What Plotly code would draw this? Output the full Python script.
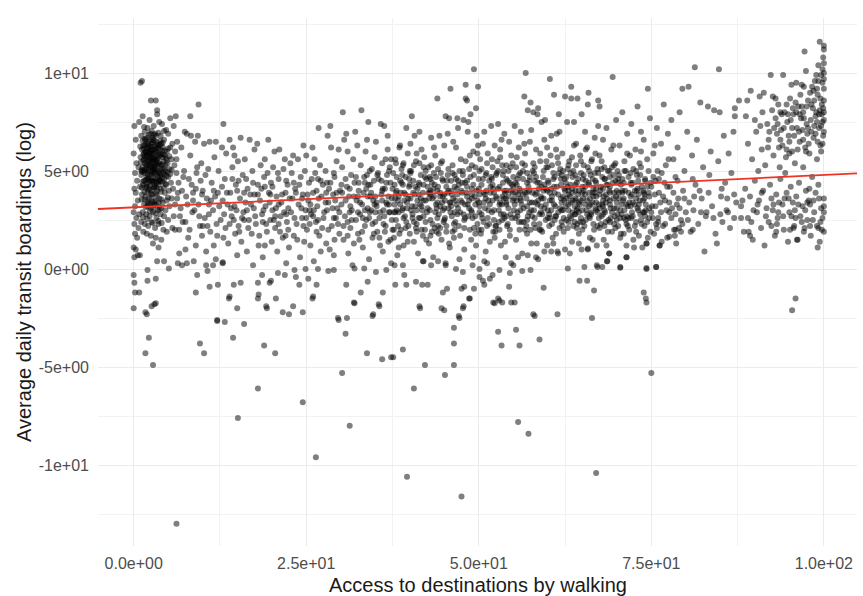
import plotly.graph_objects as go

# ---------------- data (x = access to destinations by walking, y = log avg daily boardings) ----------------
column_zero = [(0.1,7.3),(0.3,6.6),(0.0,5.9),(0.4,5.4),(0.2,4.9),(0.5,4.5),(0.1,4.1),(0.3,3.9),(0.6,3.5),(0.2,3.2),
    (0.0,2.9),(0.4,2.6),(0.1,2.3),(0.7,2.1),(0.2,1.8),(0.5,1.6),(0.0,1.1),(0.3,1.0),(0.1,0.6),(0.6,0.7),(0.9,0.7),
    (0.0,-0.3),(0.1,-0.7),(0.2,-1.2),(0.0,-2.0),(0.8,2.8),(0.9,4.2),(0.7,5.2)]

core_cluster = [(1.0,9.5),(1.2,9.6),(2.5,8.6),(3.2,8.6),(3.4,8.1),(3.4,7.9),(9.4,8.4),(8.2,7.8),(13.0,7.4),
    (1.3,7.8),(2.3,7.6),(3.7,7.5),(4.7,7.1),(5.3,7.7),(6.1,7.8),(0.8,7.5),(2.0,7.2),(2.9,7.3),(4.1,7.4),(5.8,7.3),(1.6,7.0),(3.1,6.9),
    (1.1,6.8),(1.9,6.7),(2.4,6.9),(2.8,6.6),(3.3,6.5),(3.9,6.8),(4.4,6.6),(5.0,6.9),(5.6,6.4),(1.4,6.3),(2.1,6.2),(2.6,6.4),(3.0,6.1),
    (3.6,6.3),(4.2,6.2),(4.8,6.0),(5.3,6.2),(6.3,6.5),(1.7,6.0),(2.3,5.9),(3.2,6.0),(3.8,5.9),(4.5,5.8),(6.0,6.0),(1.2,6.1),(2.7,6.7),(4.0,6.4),
    (1.0,5.7),(1.5,5.6),(2.0,5.5),(2.5,5.7),(2.9,5.4),(3.4,5.6),(3.9,5.3),(4.3,5.5),(4.9,5.4),(5.5,5.6),(1.3,5.2),(1.8,5.1),(2.2,5.3),
    (2.7,5.0),(3.1,5.2),(3.6,5.0),(4.1,5.1),(4.6,5.0),(5.2,5.1),(5.9,5.3),(1.6,4.9),(2.4,4.8),(3.0,4.9),(3.5,4.7),(4.0,4.8),(4.4,4.6),
    (5.0,4.7),(1.1,4.8),(2.0,4.6),(2.8,4.5),(3.3,4.4),(3.8,4.5),(4.7,4.3),(5.4,4.4),(6.2,4.9),(2.6,5.2),(3.7,5.4),(1.9,5.8),(3.0,5.7),(4.2,5.7),
    (1.4,4.3),(1.9,4.2),(2.3,4.1),(2.9,4.2),(3.4,4.0),(3.9,4.1),(4.5,3.9),(5.1,4.0),(5.7,4.1),(1.2,3.8),(1.7,3.7),(2.2,3.6),(2.7,3.8),
    (3.2,3.5),(3.7,3.6),(4.2,3.4),(4.8,3.5),(5.5,3.6),(6.4,3.9),(1.5,3.3),(2.0,3.2),(2.5,3.1),(3.0,3.3),(3.5,3.0),(4.0,3.1),(4.6,3.0),
    (5.2,3.2),(6.0,3.3),(1.3,2.9),(1.8,2.8),(2.3,2.7),(2.8,2.9),(3.3,2.6),(3.9,2.8),(4.4,2.7),(5.0,2.5),(5.8,2.7),
    (1.1,2.4),(1.6,2.3),(2.1,2.2),(2.6,2.4),(3.1,2.1),(3.6,2.3),(4.3,2.0),(1.4,1.9),(1.9,1.8),(2.5,1.7),(3.2,1.6),(4.0,1.5),(4.8,1.9),
    (5.6,2.1),(2.8,1.3),(3.6,1.1),(6.6,2.0),
    (1.6,5.4),(2.1,5.0),(2.5,6.1),(2.9,5.9),(3.3,5.5),(3.5,6.2),(2.2,4.4),(2.6,4.0),(3.1,4.6),(1.8,6.4),(2.4,6.6),(3.2,6.8),(1.5,4.5),
    (4.3,4.9),(2.0,3.9),(3.6,4.3),(2.7,3.4),(1.7,5.0),(3.0,5.1),(2.3,5.6),(4.6,5.3),(3.8,6.1),(2.8,4.7),(2.1,6.5),
    (1.8,5.3),(2.4,5.4),(2.9,5.2),(3.4,5.3),(2.0,6.0),(2.7,6.1),(1.5,5.9),(3.1,5.6),(2.2,5.8),(3.7,4.9),(1.9,4.7),(2.5,4.5),(2.6,5.5),(1.7,6.6)]

core_cluster_dense = [(1.05,5.45),(1.25,4.95),(1.45,6.15),(1.65,5.75),(1.85,4.35),(2.05,6.35),(2.15,5.15),(2.35,4.25),(2.45,5.95),
    (2.65,4.85),(2.75,6.45),(2.95,4.15),(3.05,6.25),(3.25,5.05),(3.35,3.75),(3.55,5.85),(3.65,4.55),(3.85,6.55),(3.95,3.95),(4.15,5.35),
    (4.35,4.15),(4.55,6.05),(4.75,4.75),(4.95,3.65),(5.15,5.75),(1.15,3.55),(1.35,2.65),(1.55,3.95),(1.75,3.15),(1.95,2.55),(2.15,3.35),
    (2.35,2.95),(2.55,3.65),(2.75,2.35),(2.95,3.45),(3.15,2.85),(3.35,3.25),(3.55,2.45),(3.75,3.05),(4.05,2.35),(1.2,5.05),(1.4,5.55),
    (1.6,6.65),(1.8,5.95),(2.0,4.85),(2.2,6.85),(2.4,5.25),(2.6,5.85),(2.8,5.45),(3.0,4.45),(3.2,5.95),(3.4,4.85),(3.6,5.35),(3.8,4.75),
    (4.0,5.85),(4.2,4.45),(4.4,5.15),(4.6,4.35),(4.8,5.55),(5.0,6.15),(5.3,4.85),(5.5,5.05),(1.9,5.35),(2.3,4.55),(2.7,5.65),(3.1,4.95),
    (3.5,5.65),(3.9,5.05),(2.1,4.05),(2.9,6.85),(1.3,4.45),(1.7,4.15),(2.5,3.85),(3.3,4.15),(4.1,4.65),(1.5,7.25),(2.6,7.05),(3.6,6.95),
    (4.4,7.05),(0.95,6.25),
    (1.1,5.0),(1.3,6.55),(1.5,5.05),(1.7,4.55),(1.9,6.15),(2.1,4.65),(2.3,6.25),(2.5,4.95),(2.7,4.45),(2.9,5.65),(3.1,4.25),(3.3,6.15),
    (3.5,4.45),(3.7,5.75),(3.9,4.45),(4.1,6.05),(4.3,5.85),(4.5,4.85),(4.7,5.65),(4.9,4.95),(1.2,4.15),(1.6,3.55),(2.0,3.45),(2.4,3.35),
    (2.8,3.15),(3.2,3.85),(3.6,3.35),(4.0,3.55),(1.4,5.85),(1.8,5.65),(2.2,5.55),(2.6,6.25),(3.0,6.55),(3.4,6.35),(3.8,6.35),(4.2,6.45),
    (2.4,6.0),(2.8,5.1),(3.2,5.4),(1.6,6.3)]

low_access = [(6.2,5.6),(6.5,4.4),(6.8,3.1),(6.9,6.2),(7.1,2.4),(7.3,5.0),(7.4,7.0),(7.6,3.7),(7.7,6.9),(7.9,1.6),(8.0,4.6),(8.2,5.8),
    (8.3,6.8),(8.5,2.9),(8.6,3.9),(8.9,6.5),(9.0,1.2),(9.1,4.9),(9.3,6.8),(9.4,3.3),(9.6,2.2),(9.8,5.4),(10.0,4.0),(10.2,6.4),(10.3,2.6),
    (10.5,0.9),(10.6,3.6),(10.8,5.1),(11.0,6.5),(11.1,1.9),(11.3,4.4),(11.5,3.0),(11.7,5.7),(11.9,6.5),(12.0,2.3),(12.2,3.9),(6.0,2.0),
    (7.5,1.0),(8.7,0.4),(11.6,1.2),(6.6,0.8),(9.9,1.7),(10.9,3.3),(12.3,5.0),(7.0,4.0),
    (12.8,6.2),(12.9,0.3),(13.2,4.6),(13.3,2.1),(13.4,5.9),(13.6,3.3),(13.7,1.3),(13.9,6.6),(14.0,3.9),(14.2,2.7),(14.3,5.2),(14.4,6.2),
    (14.6,5.8),(14.7,1.8),(14.8,4.3),(14.9,3.0),(15.0,0.7),(15.1,5.5),(15.2,2.2),(15.4,3.6),(15.5,6.7),(15.6,1.4),(15.8,4.8),(15.9,2.9),
    (16.1,5.6),(16.2,3.4),(16.4,0.9),(16.5,4.1),(16.7,2.5),(16.8,6.6),(16.9,3.8),(17.1,1.8),(17.2,5.0),(17.4,3.1),(17.5,6.1),(17.3,0.2),
    (17.7,2.3),(17.9,6.4),(18.0,4.3),(18.1,1.2),(18.3,3.5),(18.4,5.3),(18.6,2.8),(18.7,0.6),(18.9,4.7),(19.0,5.6),(19.1,3.2),(19.3,1.9),
    (19.5,6.6),(19.6,3.9),(19.8,2.5),(19.9,4.4),(20.0,1.4),(20.1,3.0),(20.2,5.2),(20.4,6.0),(20.5,2.1),(20.7,3.7),(20.8,0.9),(21.0,4.6),
    (21.1,6.1),(21.3,2.7),(21.4,3.4),(21.6,1.6),(21.7,5.1),(21.9,5.6),(22.0,3.9),(22.2,2.4),(22.3,4.3),(22.5,1.1),(22.4,3.1),
    (22.7,5.4),(22.8,2.9),(23.0,3.6),(23.1,5.8),(23.2,1.7),(23.4,4.1),(23.6,2.3),(23.8,5.6),(23.9,3.3),(24.1,0.6),(24.2,4.7),(24.4,2.6),
    (24.5,3.8),(24.7,1.4),(24.8,5.0),(24.9,3.0),(22.1,0.3),(23.5,-0.4),(24.6,6.3)]

low_access_band = [(6.3,3.6),(6.7,2.7),(7.2,4.7),(7.8,3.3),(8.1,2.0),(8.4,4.3),(8.8,3.0),(9.2,5.2),(9.5,2.7),(9.9,3.8),(10.4,4.8),
    (10.7,2.2),(11.2,3.5),(11.6,4.0),(12.1,1.7),(12.4,3.2),(12.8,4.2),(13.1,2.8),(13.5,3.9),(13.9,2.3),(14.3,4.6),(14.6,3.2),(15.0,4.0),
    (15.3,1.9),(15.7,2.6),(16.0,3.9),(16.3,4.6),(16.6,2.1),(17.0,3.3),(17.3,4.4),(17.6,2.7),(18.0,3.8),(18.2,1.7),(18.5,4.1),(18.8,3.0),
    (19.2,2.3),(19.4,4.9),(19.7,3.4),(20.1,4.2),(20.3,2.5),(20.6,3.1),(20.9,4.9),(21.2,1.9),(21.5,3.8),(21.8,2.9),(22.1,4.5),(22.4,2.0),
    (22.6,3.6),(22.9,4.9),(23.3,2.6),(23.5,3.9),(23.7,1.5),(24.0,4.3),(24.3,3.1),(24.6,2.2),(25.2,3.8),(25.5,2.3),(25.8,4.6),(26.1,3.0),
    (26.5,1.9),(26.8,3.6),(27.1,4.5),(27.5,2.6),(27.8,3.4),(28.2,2.0),(28.5,4.4),(28.8,3.1),(29.1,1.5),(29.4,3.9),(29.8,2.9),(30.1,4.3),
    (30.4,2.2),(30.7,3.5),(31.0,1.7),(31.3,4.1),(31.6,2.5),(31.9,3.7),(32.2,4.7),(32.5,2.9),(32.8,3.4),(33.1,1.9),(33.5,3.0),(33.8,4.8),
    (34.1,2.6),(34.4,3.9),(34.8,1.8),(7.5,2.4),(12.6,2.5),(19.0,1.2),(26.0,2.7),(29.0,4.9),(21.0,2.3),
    (8.6,3.5),(9.7,4.5),(10.9,2.8),(11.8,3.7),(12.9,3.5),(14.1,3.1),(15.2,4.5),(16.4,3.0),(17.5,3.8),(18.7,2.4),(19.8,3.8),(21.0,3.3),
    (22.1,2.8),(23.2,4.4),(24.4,3.6),(25.6,3.3),(26.7,2.5),(27.9,3.9),(29.0,2.6),(30.2,3.9),(31.4,3.2),(32.6,4.4),(33.7,2.5),(34.9,3.3),
    (10.0,2.2),(13.0,1.6),(16.0,2.5),(19.0,4.2),(22.0,1.7),(25.0,2.6),(28.0,3.0),(31.0,2.4),(34.0,4.3),(9.0,4.1),(14.5,2.5),(20.5,2.7),
    (26.5,4.0),(32.5,3.7)]

mid_access = [(25.0,5.8),(25.1,2.0),(25.3,3.5),(25.4,4.4),(25.6,1.2),(25.7,2.8),(25.9,6.2),(26.0,3.9),(26.1,0.4),(26.3,4.9),(26.4,2.4),
    (26.6,3.2),(26.8,7.2),(26.9,1.7),(27.0,5.3),(27.2,3.7),(27.3,2.1),(27.4,4.3),(26.2,5.6),(25.5,3.0),(27.1,0.9),(26.7,4.6),
    (27.6,2.9),(27.8,5.0),(27.9,1.3),(28.1,6.8),(28.2,3.4),(28.3,4.1),(28.5,7.3),(28.6,6.2),(28.7,2.2),(28.9,3.8),(29.0,0.7),(29.1,4.7),
    (29.3,2.6),(29.4,5.5),(29.5,3.1),(29.7,6.1),(29.8,1.8),(29.9,4.0),(28.4,1.0),(29.2,3.5),(28.0,4.4),(29.6,2.3),
    (30.1,3.3),(30.2,5.2),(30.3,8.0),(30.4,1.5),(30.5,6.6),(30.6,2.7),(30.8,6.9),(30.9,4.2),(31.0,6.0),(31.1,0.8),(31.2,3.7),(31.4,2.1),
    (31.5,4.8),(31.6,3.0),(31.8,5.6),(31.9,1.3),(32.0,4.4),(32.1,7.0),(32.2,2.5),(32.3,3.5),(32.4,6.3),(30.7,4.6),(31.3,2.9),(31.7,0.2),(32.5,1.8),
    (32.6,4.0),(32.8,2.8),(32.9,5.3),(33.0,8.1),(33.1,3.3),(33.2,1.1),(33.4,4.7),(33.5,2.2),(33.6,6.0),(33.8,6.6),(33.9,3.7),(34.0,7.5),
    (34.1,0.5),(34.2,2.9),(34.3,4.3),(34.5,5.1),(34.6,1.6),(34.7,3.5),(34.9,5.7),(35.0,2.4),(33.3,3.9),(34.4,3.0),(32.7,1.5),(33.7,4.1),(34.8,4.5),
    (35.1,6.5),(35.2,3.2),(35.3,1.9),(35.5,4.6),(35.6,2.6),(35.8,7.4),(35.9,3.8),(36.0,5.4),(36.1,0.9),(36.3,7.3),(36.4,4.1),(36.5,2.2),
    (36.6,3.4),(36.8,6.8),(36.9,1.4),(37.0,5.0),(37.1,2.9),(37.2,4.4),(37.4,3.6),(37.3,0.3),(35.4,4.9),(36.2,3.0),(36.7,4.8),(35.7,1.2),(37.5,2.0),
    (37.6,4.9),(37.7,1.6),(37.8,3.3),(37.9,5.6),(38.0,2.5),(38.1,4.0),(38.2,0.7),(38.4,3.7),(38.5,6.2),(38.6,6.3),(38.7,2.0),(38.8,4.4),
    (38.9,3.0),(39.0,5.3),(39.1,1.2),(39.2,3.9),(39.3,2.7),(39.4,4.7),(39.5,7.2),(39.6,3.4),(39.7,5.9),(39.8,2.2),(39.9,4.2),(40.0,1.8),
    (38.3,3.5),(39.0,0.2),(38.6,4.5),(37.9,2.9),
    (40.1,3.6),(40.2,5.0),(40.3,7.8),(40.4,2.8),(40.5,4.5),(40.6,1.4),(40.7,6.8),(40.8,3.2),(40.9,5.5),(41.0,2.3),(41.1,4.1),(41.2,0.8),
    (41.3,3.8),(41.4,7.0),(41.5,2.6),(41.6,4.8),(41.7,6.1),(41.8,3.0),(41.9,1.7),(42.0,4.3),(42.1,5.7),(42.2,2.0),(42.3,3.5),(42.4,4.6),
    (40.5,3.9),(41.5,3.3),(42.0,0.4),(41.0,5.9),
    (42.6,3.1),(42.7,5.2),(42.8,1.3),(42.9,3.9),(43.0,2.5),(43.1,6.7),(43.2,4.4),(43.3,3.6),(43.4,0.6),(43.5,4.9),(43.6,2.1),(43.7,5.8),
    (43.8,3.3),(43.9,1.9),(44.0,8.7),(44.1,4.2),(44.2,2.8),(44.3,6.8),(44.4,3.7),(44.5,5.4),(44.6,1.5),(44.7,4.6),(44.8,3.0),(44.9,2.4),
    (45.0,6.3),(43.0,3.8),(44.0,4.0),(42.9,4.7),
    (45.1,3.5),(45.2,7.8),(45.3,2.2),(45.4,4.5),(45.5,6.9),(45.6,3.1),(45.7,7.7),(45.8,1.1),(45.9,9.2),(46.0,4.0),(46.1,2.7),(46.2,5.3),
    (46.3,3.6),(46.4,1.6),(46.5,4.8),(46.6,2.4),(46.7,6.2),(46.8,3.3),(46.9,7.7),(47.0,7.2),(47.1,4.3),(47.2,0.5),(47.3,2.9),(47.4,5.6),
    (45.5,3.9),(46.0,4.5),(46.9,3.8),(47.5,4.0),(45.2,0.3),(46.5,2.0),
    (47.6,3.4),(47.7,5.0),(47.8,7.6),(47.9,2.1),(48.0,4.4),(48.1,9.4),(48.1,8.7),(48.3,8.6),(48.4,7.0),(48.5,7.5),(48.6,3.1),(48.7,5.8),
    (48.8,7.9),(48.9,1.5),(49.0,4.1),(49.1,2.6),(49.2,6.0),(49.3,10.2),(49.4,3.7),(49.5,5.2),(49.6,8.2),(49.7,6.8),(49.8,2.3),(49.9,9.3),
    (50.0,4.6),(48.2,3.9),(48.8,4.7),(49.5,3.3),(47.9,1.0),(49.2,0.6),(48.5,2.7)]

upper_mid_access = [(50.1,3.2),(50.2,5.6),(50.3,1.8),(50.4,4.3),(50.5,2.6),(50.6,6.4),(50.8,7.0),(50.9,3.8),(51.0,0.9),(51.1,4.9),
    (51.2,2.2),(51.3,5.9),(51.4,3.5),(51.5,4.5),(51.6,1.4),(51.8,7.3),(51.9,2.9),(52.0,5.2),(52.1,4.1),(52.2,3.0),(52.3,6.3),(52.4,1.9),
    (50.7,3.4),(51.7,3.9),(52.5,4.8),(50.0,2.0),(51.2,0.3),(52.2,2.5),
    (52.6,3.6),(52.7,5.5),(52.8,7.4),(52.9,2.4),(53.0,4.2),(53.1,6.1),(53.2,1.2),(53.3,3.3),(53.5,4.8),(53.6,2.8),(53.7,6.9),(53.8,3.9),
    (53.9,0.6),(54.0,5.3),(54.1,2.2),(54.2,4.5),(54.3,3.1),(54.4,6.5),(54.5,1.7),(54.6,4.0),(54.7,5.8),(54.8,2.6),(54.9,3.5),(55.0,4.7),
    (53.4,3.7),(54.0,3.4),(53.0,2.0),(54.5,4.4),(55.0,0.2),(53.6,5.0),
    (55.1,3.0),(55.2,7.3),(55.3,4.4),(55.4,1.5),(55.5,5.7),(55.6,2.7),(55.7,3.8),(55.8,6.2),(55.9,2.0),(56.0,4.9),(56.1,7.0),(56.2,3.3),
    (56.3,0.8),(56.4,4.6),(56.5,2.4),(56.6,8.8),(56.7,5.3),(56.8,10.0),(56.9,3.6),(57.0,1.8),(57.1,8.1),(57.2,4.2),(57.3,2.9),(57.4,6.5),
    (57.5,8.5),(55.5,3.5),(56.0,4.0),(56.5,3.1),(57.0,3.9),(55.8,4.8),(56.9,2.2),(57.4,4.7),
    (57.6,7.1),(57.7,3.4),(57.8,5.0),(57.9,8.0),(58.0,2.3),(58.1,4.5),(58.2,3.8),(58.3,6.1),(58.4,1.3),(58.5,7.9),(58.6,8.2),(58.7,4.1),
    (58.8,2.8),(58.9,5.5),(59.0,3.2),(59.1,7.5),(59.2,1.9),(59.3,4.7),(59.4,3.6),(59.5,6.6),(59.6,7.6),(59.7,2.5),(59.8,5.2),(59.9,4.0),
    (60.0,3.0),(58.0,4.9),(58.5,3.3),(59.0,2.0),(59.5,4.3),(58.3,0.6),(59.9,1.2),
    (60.1,4.4),(60.2,2.2),(60.3,9.7),(60.4,5.8),(60.5,6.8),(60.6,3.5),(60.7,1.6),(60.8,4.9),(60.9,8.9),(61.0,3.9),(61.1,2.7),(61.2,6.1),
    (61.3,4.2),(61.4,0.9),(61.5,5.4),(61.6,7.9),(61.7,7.0),(61.8,3.1),(61.9,4.6),(62.0,2.4),(62.1,5.9),(62.2,3.7),(62.3,1.9),(62.4,4.1),
    (62.5,8.8),(60.5,3.0),(61.0,4.7),(61.5,2.9),(62.0,3.4),(62.2,5.0),(60.3,2.6),
    (62.6,3.2),(62.7,4.7),(62.8,7.5),(62.9,2.1),(63.0,3.8),(63.1,5.5),(63.2,2.7),(63.3,4.3),(63.4,9.3),(63.4,8.7),(63.5,1.4),(63.6,3.5),
    (63.7,5.0),(63.8,7.5),(63.9,2.4),(64.0,4.0),(64.1,6.4),(64.2,3.0),(64.3,8.7),(64.4,4.6),(64.5,1.8),(64.6,3.3),(64.7,5.8),(64.8,2.6),
    (64.9,7.9),(65.0,4.2),(63.0,3.0),(63.5,4.1),(64.0,3.6),(64.5,2.9),(63.2,0.8),(64.8,4.9),(63.8,6.3),(62.9,5.1),(64.2,2.1),(63.6,2.9),
    (65.1,3.6),(65.2,5.3),(65.3,2.2),(65.4,7.0),(65.5,4.5),(65.6,3.0),(65.7,6.2),(65.8,8.4),(65.9,9.0),(66.0,3.9),(66.1,1.6),(66.2,4.8),
    (66.3,2.8),(66.4,5.6),(66.5,3.4),(66.6,4.1),(66.7,2.0),(66.8,6.7),(66.9,3.1),(67.0,4.4),(67.1,1.2),(67.2,5.1),(67.3,8.6),(67.3,7.3),
    (67.4,2.6),(67.5,8.3),(65.5,2.5),(66.0,3.2),(66.5,4.6),(67.0,3.7),(65.8,1.0),(66.9,5.9),(65.2,4.0),(67.4,3.3),
    (67.6,4.0),(67.7,2.3),(67.8,5.5),(67.9,3.3),(68.0,6.6),(68.1,1.5),(68.2,4.6),(68.3,2.9),(68.4,3.8),(68.5,7.2),(68.6,0.4),(68.7,5.0),
    (68.8,2.5),(68.9,0.8),(69.0,4.2),(69.1,3.1),(69.2,6.1),(69.3,1.9),(69.4,9.8),(69.5,3.6),(69.6,5.3),(69.7,2.7),(69.8,4.5),(69.9,7.6),
    (70.0,3.4),(68.0,3.5),(68.5,4.3),(69.0,2.4),(69.5,4.8),(68.2,3.0),(69.8,2.1),(67.8,2.7),
    (70.1,5.0),(70.2,2.2),(70.3,3.9),(70.4,6.3),(70.5,0.1),(70.6,4.3),(70.7,2.8),(70.8,8.0),(70.9,3.5),(71.0,1.8),(71.1,5.5),(71.2,4.0),
    (71.3,2.5),(71.4,0.6),(71.4,1.2),(71.5,6.9),(71.6,3.2),(71.7,4.7),(71.8,2.0),(71.9,5.8),(72.0,3.7),(72.1,7.4),(72.2,2.9),(72.3,4.4),
    (72.4,1.5),(70.5,3.0),(71.0,3.6),(71.5,2.7),(72.0,4.9),(70.8,4.6),
    (72.6,3.3),(72.7,6.1),(72.8,2.4),(72.9,4.8),(73.0,8.3),(73.1,3.8),(73.2,1.7),(73.3,5.4),(73.4,2.8),(73.5,7.0),(73.6,4.2),(73.7,1.1),
    (73.8,3.5),(73.9,6.6),(74.0,2.2),(74.1,4.6),(74.2,3.0),(74.3,1.3),(74.4,5.6),(74.5,9.2),(74.6,3.9),(74.7,2.6),(74.8,7.7),(74.9,4.4),
    (74.3,0.05),(73.0,3.1),(74.0,3.6),(72.8,5.0)]

dense_band = [(33.2,2.6),(33.5,4.4),(33.9,3.1),(34.2,5.0),(34.6,2.3),(35.0,3.7),(35.3,4.8),(35.7,2.9),(36.0,4.0),(36.4,1.9),(36.7,3.3),
    (37.1,5.2),(37.4,2.5),(37.8,4.3),(38.1,3.0),(38.5,1.8),(38.8,5.1),(39.2,3.5),(39.5,2.4),(39.9,4.6),(40.2,3.0),(40.6,5.3),(40.9,2.1),
    (41.3,4.4),(41.6,3.6),(42.0,2.7),(42.3,5.0),(42.7,3.9),(43.0,1.7),(43.4,4.1),(43.7,2.9),(44.1,5.1),(44.4,3.2),(44.8,4.5),(45.1,2.6),
    (45.5,4.8),(45.8,3.4),(46.2,1.9),(46.5,4.2),(46.9,2.8),(47.2,5.0),(47.6,3.9),(47.9,2.5),(48.3,4.5),(48.6,3.5),(49.0,5.3),(49.3,2.1),
    (49.7,4.0),(50.0,3.4),(50.4,5.1),(50.7,2.4),(51.1,4.0),(51.4,3.0),(51.8,4.7),(52.1,1.9),(52.5,3.7),(52.8,5.0),(53.2,2.8),(53.5,4.4),
    (53.9,3.6),(54.2,2.3),(54.6,5.2),(54.9,3.9),(55.3,2.6),(55.6,4.6),(56.0,3.0),(56.3,5.4),(56.7,2.0),(57.0,4.4),(57.4,3.4),(57.7,2.7),
    (58.1,5.2),(58.4,3.9),(58.8,2.3),(59.1,4.2),(59.5,3.1),(59.8,5.5),(60.2,2.8),(60.5,4.1),(60.9,3.3),(61.2,1.8),(61.6,4.9),(61.9,3.6),
    (62.3,2.6),(62.6,4.4),(63.0,5.3),(63.3,3.4),(63.7,2.2),(64.0,4.8),(64.4,3.8),(64.7,2.4),(65.1,4.6),(65.4,3.3),(65.8,5.2),(66.1,2.6),
    (66.5,3.9),(66.8,4.9),(67.2,2.9),(67.5,3.8),(67.9,4.7),(68.2,2.2),(68.6,3.6),(68.9,5.0),(69.3,2.9),(69.6,3.9),(70.0,2.5),(70.3,4.8),
    (70.7,3.3),(71.0,4.4),(71.4,2.3),(71.7,3.9),(72.1,2.6),(72.4,5.1),(72.8,3.6),(73.1,4.5),(73.5,2.5),(73.8,4.0),(74.2,3.3),(74.6,5.0),
    (65.0,3.0),(66.0,4.3),(67.0,3.4),(68.0,4.1),(69.0,3.3),(70.0,4.0),(64.0,2.8),(63.0,4.0),(62.0,3.0),(61.0,2.5),(60.0,4.5),(59.0,3.7),
    (58.0,3.0),(57.0,4.9),(56.0,3.6),(55.0,4.2),(54.0,2.7),(53.0,3.3),(52.0,4.3),(51.0,3.6),(50.0,4.1),(49.0,2.9),(48.0,3.3),(47.0,4.5),
    (46.0,3.2),(45.0,3.8),(44.0,2.6),(43.0,4.6),(42.0,3.5),(41.0,3.0),(40.0,4.3),(39.0,3.1),(38.0,3.9),(37.0,2.9),(36.0,3.5),(35.0,2.9)]

dense_band_mid = [(35.2,3.4),(35.6,1.6),(35.9,4.5),(36.3,2.7),(36.5,5.6),(36.9,3.7),(37.2,1.5),(37.5,4.1),(37.7,2.9),(38.0,5.4),(38.3,2.2),
    (38.6,3.3),(38.9,4.8),(39.1,2.6),(39.4,3.8),(39.7,1.4),(40.0,5.0),(40.3,3.2),(40.6,2.4),(40.8,4.2),(41.1,3.5),(41.4,5.4),(41.7,2.0),
    (41.9,3.9),(42.2,4.7),(42.5,2.9),(42.8,3.6),(43.1,5.3),(43.3,2.3),(43.6,4.3),(43.9,3.1),(44.2,1.8),(44.5,4.9),(44.7,3.4),(45.0,2.5),
    (45.3,4.2),(45.6,5.1),(45.9,2.9),(46.1,3.8),(46.4,2.3),(46.7,4.6),(47.0,3.1),(47.3,1.7),(47.6,4.4),(47.8,2.8),(48.1,5.5),(48.4,3.3),
    (48.7,2.0),(49.0,3.6),(49.3,4.8),(49.5,2.7),(49.8,5.9),(50.1,3.8),(50.4,2.0),(50.6,4.6),(50.9,3.1),(51.2,5.4),(51.5,2.3),(51.7,4.2),
    (52.0,3.5),(52.3,1.6),(52.6,4.9),(52.9,3.0),(53.1,5.7),(53.4,2.5),(53.7,4.0),(54.0,3.3),(54.3,5.0),(54.5,2.0),(54.8,4.3),(55.1,3.6),
    (55.4,5.2),(55.6,2.9),(55.9,4.1),(56.2,2.4),(56.4,3.8),(56.7,5.9),(57.0,3.2),(57.3,4.5),(57.5,2.0),(57.8,3.9),(58.1,2.6),(58.3,4.7),
    (58.6,3.5),(58.9,5.9),(59.2,2.8),(59.4,4.0),(59.7,3.3),(60.0,5.2),(60.3,3.9),(60.6,2.3),(60.8,4.6),(61.1,3.2),(61.4,5.7),(61.7,2.1),
    (61.9,4.3),(62.2,3.0),(36.1,4.1),(37.9,3.6),(39.6,3.1),(41.3,2.6),(43.0,4.0),(44.8,3.7),(46.6,3.5),(48.3,4.2),(50.1,2.9),(51.9,4.6),
    (53.6,3.6),(55.3,3.9),(57.1,2.7),(58.8,4.4),(60.6,3.7),(62.0,4.8),(36.8,6.1),(40.1,6.4),(43.5,6.2),(46.3,6.5),(49.9,6.3),(53.3,6.6),
    (56.6,6.4),(59.9,6.2),(61.3,6.9),(38.4,1.1),(42.4,1.5),(45.7,1.3),(49.6,1.2),(53.8,1.4),(57.6,1.3),(60.8,1.3),(34.3,3.7),(44.4,2.1),
    (52.4,2.2),(58.2,2.1)]

dense_band_core = [(36.2,2.3),(36.6,4.4),(37.0,3.3),(37.3,5.6),(37.7,2.0),(38.1,4.7),(38.4,2.9),(38.7,3.9),(39.1,5.4),(39.4,2.1),
    (39.8,3.6),(40.1,4.9),(40.4,2.6),(40.7,3.8),(41.0,1.9),(41.4,4.3),(41.7,3.2),(42.0,5.2),(42.3,2.4),(42.6,4.2),(42.9,3.0),(43.2,1.9),
    (43.5,3.7),(43.8,4.7),(44.1,2.2),(44.4,3.9),(44.7,5.5),(45.0,3.1),(45.3,1.9),(45.6,4.0),(45.9,3.4),(46.2,4.9),(46.5,2.9),(46.8,4.1),
    (47.1,2.2),(47.4,3.5),(47.7,4.8),(48.0,2.6),(48.3,3.7),(48.6,5.1),(48.9,3.0),(49.2,4.3),(49.5,1.8),(49.8,3.5),(50.1,5.0),(50.4,2.8),
    (50.7,3.9),(51.0,4.8),(51.3,2.6),(51.6,3.3),(51.9,5.6),(52.2,3.9),(52.5,2.2),(52.8,4.1),(53.1,3.4),(53.4,5.3),(53.7,2.6),(54.0,4.6),
    (54.3,3.7),(54.6,2.8),(54.9,5.4),(55.2,3.3),(55.5,4.3),(55.8,2.4),(56.1,3.5),(56.4,5.0),(56.7,3.9),(57.0,2.5),(57.3,4.0),(57.6,3.0),
    (57.9,5.4),(58.2,3.4),(58.5,4.4),(58.8,2.0),(59.1,3.6),(59.4,5.0),(59.7,4.1),(60.0,2.6),(60.3,3.5),(60.6,5.3),(60.9,4.2),(61.2,2.7),
    (61.5,3.8),(61.8,5.1),(62.1,2.2),(62.4,4.6),(62.7,3.6),(63.0,2.4),(63.3,4.9),(63.6,3.9),(63.9,2.8),(64.2,4.4),(64.5,3.4),(64.8,5.5),
    (65.1,2.4),(65.4,4.2),(65.7,3.5),(66.0,5.0),(66.3,2.9),(66.6,3.7),(66.9,4.5),(67.2,2.2),(67.5,3.1),(67.8,5.1),(68.1,3.7),(68.4,2.4),
    (68.7,4.3),(69.0,3.5),(69.3,5.2),(69.6,2.3),(69.9,3.7),(70.2,4.6),(70.5,2.6),(70.8,3.9),(71.1,5.0),(71.4,3.3),(71.7,2.6),(72.0,4.4),
    (72.3,3.4),(72.6,2.2),(72.9,4.0),(73.2,3.3),(73.5,5.2),(73.8,2.9),(74.1,4.5),(74.4,2.4),(74.7,3.7),(75.0,2.9),(75.3,4.7),(75.6,3.2),
    (76.0,2.4),(39.0,4.3),(44.0,3.4),(49.0,3.8),(54.0,4.0),(59.0,2.9),(64.0,3.5),(69.0,4.7),(74.0,3.8)]

dense_band_high = [(62.4,3.5),(62.7,2.5),(62.9,4.2),(63.2,3.7),(63.4,2.6),(63.6,4.7),(63.9,3.2),(64.1,5.3),(64.3,2.3),(64.5,4.0),
    (64.8,3.5),(65.0,2.0),(65.2,4.8),(65.4,3.8),(65.7,2.8),(65.9,4.4),(66.1,3.6),(66.3,5.5),(66.6,2.3),(66.8,3.9),(67.0,3.0),(67.3,4.9),
    (67.5,2.1),(67.7,4.2),(68.0,2.8),(68.2,5.2),(68.4,3.4),(68.7,1.9),(68.9,4.0),(69.1,2.6),(69.4,4.4),(69.6,3.1),(69.8,5.4),(70.1,2.8),
    (70.3,3.6),(70.6,1.8),(70.8,4.0),(71.1,3.0),(71.3,5.0),(71.6,2.2),(71.8,3.4),(72.1,4.3),(72.3,2.7),(72.6,4.0),(72.8,1.9),(73.1,3.0),
    (73.4,4.8),(73.6,2.3),(73.9,3.9),(74.1,2.7),(74.4,4.2),(74.7,3.1),(74.9,1.9),(75.2,2.6),(75.5,3.8),(75.8,2.1),(76.1,4.6),(76.4,2.9),
    (76.7,3.7),(77.0,2.3),(77.3,4.2),(77.6,3.4),(77.9,2.6),(78.2,3.9),(78.5,2.8),(78.8,4.5),(79.1,3.1),(79.5,2.3),(79.8,3.6),(63.0,3.3),
    (64.0,4.3),(65.0,3.9),(66.0,2.7),(67.0,4.1),(68.0,3.2),(69.0,3.9),(70.0,3.1),(71.0,2.6),(72.0,3.2),(73.0,4.1),(74.0,2.9),(63.5,5.7),
    (65.5,6.1),(67.5,5.8),(69.5,6.3),(71.5,5.9),(73.5,6.0),(75.5,6.3),(77.5,5.6),(64.5,1.3),(66.5,1.5),(68.5,1.2),(70.5,1.6),(72.5,1.1),
    (74.5,1.6),(76.5,1.4),(78.5,2.0),(62.5,4.0),(64.3,3.1),(66.2,3.3),(68.3,4.6),(70.2,4.4),(72.2,3.8),(73.3,3.5),(75.0,4.2)]

high_access = [(75.1,3.2),(75.3,5.9),(75.4,1.8),(75.6,4.5),(75.7,0.1),(75.8,7.2),(76.0,2.6),(76.1,3.9),(76.2,1.2),(76.4,6.4),(76.5,4.9),
    (76.7,2.2),(76.8,8.4),(77.0,3.5),(77.1,5.3),(77.3,1.6),(77.4,6.9),(77.6,2.9),(77.7,4.2),(77.9,7.6),(78.0,3.1),(78.2,5.6),(78.3,2.0),
    (78.5,4.7),(78.6,1.3),(78.8,6.2),(78.9,3.6),(79.1,8.0),(79.3,2.5),(79.5,9.2),(79.6,4.0),(79.8,5.0),(80.0,2.9),(80.2,7.0),(80.4,9.3),
    (80.5,3.4),(80.7,1.9),(80.9,5.8),(81.1,3.0),(81.3,10.3),(81.4,4.3),(81.6,6.6),(81.8,2.3),(82.1,8.5),(82.3,3.6),(82.5,5.2),(82.7,0.9),
    (82.9,2.7),(83.2,8.3),(83.4,4.8),(83.6,6.0),(83.8,3.2),(84.1,8.1),(84.3,1.8),(84.5,1.3),(84.7,5.5),(84.9,8.0),(84.8,10.2),(85.1,3.7),
    (85.3,2.4),(85.5,6.8),(85.7,4.4),(85.9,3.0),(86.2,5.9),(86.4,2.1),(86.6,4.9),(86.9,7.0),(87.1,8.2),(87.1,7.8),(87.3,3.4),(77.2,3.0),
    (78.7,3.3),(81.0,4.6),(83.0,2.9),(86.0,3.6),(76.3,3.4),(79.0,2.1),(82.0,4.0),(85.0,2.8),(87.0,2.6),(78.4,1.7),(77.6,1.65),(79.3,1.9),
    (75.7,2.3),(81.0,2.0),(88.0,2.6),(76.9,4.4),(75.9,5.0),(80.3,2.5),(81.2,3.7),(82.2,2.9),(83.3,3.9),(84.0,2.6),(85.2,4.1),(86.1,2.9),(87.0,3.8)]

top_access_upper = [(87.7,8.6),(88.7,7.8),(88.9,8.6),(89.4,9.1),(89.0,6.4),(89.6,5.6),(90.2,7.0),(90.7,8.8),(91.0,6.1),(91.3,9.0),
    (91.5,5.3),(91.8,7.4),(92.0,6.6),(92.3,9.9),(92.5,8.1),(92.7,5.8),(93.0,7.7),(93.2,6.9),(93.4,8.4),(93.6,5.2),(93.8,7.1),(94.0,6.3),
    (94.1,9.9),(94.3,8.0),(94.5,5.7),(94.7,7.5),(94.9,6.8),(95.1,8.7),(95.3,9.4),(95.4,6.0),(95.6,7.9),(95.8,5.4),(96.0,9.5),(96.1,7.2),
    (96.3,8.3),(96.5,6.5),(96.7,7.7),(96.8,9.4),(97.0,8.0),(97.2,11.1),(97.3,6.2),(97.4,10.1),(97.5,7.4),(97.7,8.6),(97.9,5.9),(98.0,9.0),
    (98.2,7.0),(98.4,8.2),(98.5,6.7),(98.7,9.6),(98.8,7.8),(99.0,5.6),(99.1,8.9),(99.2,10.4),(99.3,7.2),(99.4,11.6),(99.5,6.3),(99.6,9.9),
    (99.7,8.4),(99.8,7.5),(99.9,10.8),(100.0,11.4),(100.0,11.2),(100.0,9.2),(100.0,8.0),(99.9,6.8),(100.0,10.0),(99.8,9.5),(100.0,7.0),
    (99.6,6.0),(98.9,8.0),(96.4,7.0),(97.6,6.9),(95.9,8.5),(93.9,7.9),(92.8,7.2),(98.3,9.3),(99.0,9.2),(99.5,8.7),(99.7,7.9),(98.6,7.3),
    (97.1,7.7),(96.6,8.9),(95.2,7.6),(94.6,8.4),(93.5,6.2),
    (90.0,7.6),(91.1,8.0),(92.1,7.0),(93.0,8.7),(93.7,6.6),(94.2,7.2),(95.0,6.5),(95.5,8.2),(96.2,6.1),(96.9,7.1),(97.5,8.3),(97.8,6.4),
    (98.1,7.6),(98.6,8.6),(99.1,6.5),(99.3,7.9),(99.6,7.3),(99.9,8.2),(100.0,9.7),(100.0,8.6),(99.8,10.2),(98.9,9.9),(97.1,9.3),(95.4,7.2),
    (93.3,7.4),(91.9,6.2),(96.0,8.0),(94.6,6.1),(92.6,8.8),(90.8,7.3),
    (96.5,7.9),(97.0,6.6),(97.7,7.2),(98.2,8.4),(98.8,6.9),(99.4,8.1),(99.8,6.4),(100.0,7.6),(96.8,8.3),(95.7,6.8),(94.8,7.9),(93.7,8.0),
    (98.5,9.1),(99.2,9.6),(100.0,10.5),(97.4,6.0),(99.0,7.5),(95.0,5.9)]

top_access_lower = [(88.0,3.2),(88.4,1.9),(88.6,4.1),(89.0,2.6),(89.3,3.7),(89.7,1.5),(90.0,4.5),(90.3,2.9),(90.6,3.5),(90.9,2.1),
    (91.2,4.0),(91.4,1.2),(91.7,3.1),(92.0,2.4),(92.2,4.3),(92.6,3.0),(92.9,1.7),(93.1,3.8),(93.3,2.6),(93.7,4.6),(94.0,3.3),(94.2,2.0),
    (94.6,3.9),(94.8,1.4),(95.0,2.9),(95.2,4.2),(95.5,3.4),(95.7,2.2),(96.0,3.7),(96.2,1.5),(96.4,4.4),(96.6,2.7),(96.9,3.2),(97.1,1.9),
    (97.4,4.0),(97.6,2.5),(97.8,3.5),(98.1,1.7),(98.3,4.7),(98.6,2.9),(98.8,3.9),(99.0,2.2),(99.2,4.3),(99.4,1.4),(99.6,3.1),(99.8,2.6),
    (100.0,3.6),(100.0,1.9),(99.1,1.1),(96.1,1.5),(90.5,5.0),(94.4,4.9),(97.0,5.2),(89.8,3.0),(93.5,3.4),(95.8,3.0),(98.0,3.3),
    (92.4,2.2),(93.1,1.9),(93.2,2.3),(95.1,2.0),(95.6,2.1),(97.2,2.1),(98.0,2.2),(99.2,2.1),(89.1,1.9),(89.3,1.7),
    (88.2,3.5),(89.5,2.4),(90.4,3.3),(91.6,2.7),(92.4,3.6),(93.4,2.9),(94.3,3.6),(95.3,2.7),(96.3,3.3),(97.3,3.0),(98.4,2.5),(99.3,3.6),
    (99.7,2.0),(100.0,2.9),(91.0,3.9),(94.9,3.6),(97.9,4.1),
    (96.8,2.4),(97.6,3.4),(98.5,3.5),(99.5,2.4),(100.0,3.2),(95.9,2.6),(94.1,2.7),(92.7,3.3)]

low_outliers = [(1.7,-2.2),(2.6,-1.9),(3.0,-1.8),(2.2,-3.5),(1.7,-4.3),(2.8,-4.9),(6.2,-13.0),(9.6,-3.8),(10.2,-4.3),(12.1,-2.6),
    (13.2,-2.7),(14.4,-3.5),(15.0,-2.0),(16.0,-2.8),(18.0,-6.1),(15.1,-7.6),(18.9,-3.9),(20.5,-4.3),(19.3,-2.0),(20.6,-1.5),(21.6,-2.2),
    (22.5,-2.3),(23.1,-1.9),(13.8,-1.5),(18.0,-1.5),(24.5,-2.2),(26.0,-1.4),(29.6,-2.5),(30.9,-2.5),(31.9,-1.7),(30.7,-3.3),(33.8,-4.3),
    (34.7,-2.3),(35.5,-1.8),(36.0,-4.6),(37.3,-4.5),(37.6,-4.5),(39.0,-4.1),(41.4,-1.9),(42.2,-4.9),(40.6,-6.1),(30.2,-5.3),(31.3,-8.0),
    (26.4,-9.6),(24.5,-6.8),(39.6,-10.6),(44.6,-2.0),(45.0,-2.1),(46.4,-3.0),(46.4,-3.8),(45.1,-5.4),(46.4,-4.9),(47.2,-2.5),(47.8,-1.9),
    (48.6,-1.5),(47.5,-11.6),(52.1,-1.7),(52.8,-1.5),(53.4,-1.7),(54.7,-1.7),(55.2,-1.7),(52.8,-3.2),(53.3,-3.9),(55.4,-3.1),(55.9,-3.9),
    (57.9,-2.3),(58.8,-3.6),(61.4,-2.3),(66.4,-2.5),(55.7,-7.8),(57.2,-8.4),(67.0,-10.4),(74.3,-1.7),(74.2,-1.5),(75.0,-5.3),(73.9,-1.2),
    (95.4,-2.1),(95.9,-1.5),(0.8,-1.2),(1.9,-2.3),(3.2,-1.75),(9.0,-1.2),(11.0,-0.9),(12.2,-0.8),(12.1,-2.65),(13.9,-1.4),(14.5,-0.8),
    (15.5,-0.7),(18.0,-0.7),(19.7,-0.7),(18.1,-1.3),(19.2,-1.9),(24.0,-0.8),(25.3,-0.5),(26.5,-0.8),(25.9,-1.5),(29.7,-2.6),(30.8,-0.8),
    (2.0,-0.6),(3.2,-0.5),(9.2,-0.3),(10.7,-0.1),(18.6,-0.3),(19.9,-0.6),(21.9,-0.3),(20.9,-0.2),(28.2,-0.1),(2.0,-0.05),(3.4,0.4),
    (4.4,0.4),(5.1,0.03),(6.4,0.3),(7.7,0.3),(7.0,0.2),(10.5,0.2),(11.9,0.5),(12.9,0.35),(11.5,0.2),(23.3,-0.05),(24.9,0.0),(26.7,0.0),
    (29.0,-0.05),(33.9,-0.65),(32.9,-1.2),(32.0,-1.75),(34.6,-2.4),(35.6,-1.9),(36.1,-1.2),(37.9,-0.8),(39.5,-0.8),(40.9,-0.65),
    (41.8,-0.8),(42.6,-0.8),(41.5,-2.0),(44.8,-1.2),(45.4,-1.0),(47.1,-2.4),(47.5,-1.0),(47.9,-0.9),(48.7,-1.5),(49.3,-1.0),(47.7,-2.0),
    (50.1,-0.4),(50.6,-0.6),(50.8,-0.8),(51.6,-0.5),(52.0,-0.3),(52.3,-1.75),(53.0,-1.6),(54.4,-0.9),(54.5,-0.2),(56.3,-0.1),(57.5,-0.05),
    (58.1,-2.4),(59.4,-0.95),(62.9,0.03),(64.6,-0.6),(65.7,-0.6),(65.3,0.1),(66.7,-1.1),(67.2,0.1),(45.2,0.2),(50.1,0.0),
    (32.0,0.03),(33.4,0.03),(35.1,-0.15),(36.6,-0.05),(37.8,0.2),(39.2,-0.3),(41.9,0.4),(43.1,0.2),(44.1,0.4),(46.7,0.0),(47.7,-0.15),
    (49.1,0.2),(50.8,0.4),(53.0,-0.05),(54.7,0.3),(55.7,0.6),(57.1,0.7),(58.6,0.5),(59.5,0.9),(60.5,0.9),(61.5,0.8),(62.5,1.0),(64.9,1.0),
    (65.8,1.05),(67.1,0.2),(67.9,0.1),(68.6,0.4),(68.9,0.8),(70.5,0.07),(71.4,0.6),(74.3,0.0),(75.7,0.1),(74.3,1.3),(76.2,1.2)]

# regression line coefficients (fitted trend shown in red)
trend_intercept = 3.15
trend_slope = 0.0165

# axes
x_range = [-5.17, 104.8]
y_range = [-14.13, 12.81]
x_tick_values = [0, 25, 50, 75, 100]
x_tick_labels = ["0.0e+00", "2.5e+01", "5.0e+01", "7.5e+01", "1.0e+02"]
y_tick_values = [-10, -5, 0, 5, 10]
y_tick_labels = ["-1e+01", "-5e+00", "0e+00", "5e+00", "1e+01"]

all_points = (column_zero + core_cluster + core_cluster_dense + low_access + low_access_band + mid_access
              + upper_mid_access + dense_band + dense_band_mid + dense_band_core + dense_band_high + high_access
              + top_access_upper + top_access_lower + low_outliers)
walk_access = [p[0] for p in all_points]
log_boardings = [p[1] for p in all_points]

FONT = "Liberation Sans, Arial, Helvetica, sans-serif"

fig = go.Figure()
fig.add_trace(go.Scatter(
    x=walk_access, y=log_boardings, mode="markers",
    marker=dict(color="black", size=6, opacity=0.5, line=dict(width=0)),
    hoverinfo="skip", showlegend=False))
fig.add_trace(go.Scatter(
    x=x_range, y=[trend_intercept + trend_slope * v for v in x_range], mode="lines",
    line=dict(color="#EE3524", width=1.8), hoverinfo="skip", showlegend=False))

grid_major = "#EBEBEB"
grid_minor = "#F2F2F2"
fig.update_layout(
    width=863, height=596,
    margin=dict(l=98, r=6, t=18, b=50),
    plot_bgcolor="white", paper_bgcolor="white",
    font=dict(family=FONT, size=16, color="#4D4D4D"),
    xaxis=dict(range=x_range, tickmode="array", tickvals=x_tick_values, ticktext=x_tick_labels,
               showgrid=True, gridcolor=grid_major, gridwidth=1.2, zeroline=False, showline=False,
               ticks="", ticklabelstandoff=6, tickfont=dict(size=16, color="#4D4D4D"),
               minor=dict(dtick=12.5, tick0=0, showgrid=True, gridcolor=grid_minor, gridwidth=1)),
    yaxis=dict(range=y_range, tickmode="array", tickvals=y_tick_values, ticktext=y_tick_labels,
               showgrid=True, gridcolor=grid_major, gridwidth=1.2, zeroline=False, showline=False,
               ticks="", ticklabelstandoff=8, tickfont=dict(size=16, color="#4D4D4D"),
               minor=dict(dtick=2.5, tick0=0, showgrid=True, gridcolor=grid_minor, gridwidth=1)),
    annotations=[
        dict(text="Access to destinations by walking", xref="paper", yref="paper", x=0.5, y=0,
             xanchor="center", yanchor="middle", yshift=-39, showarrow=False,
             font=dict(family=FONT, size=20, color="#1A1A1A")),
        dict(text="Average daily transit boardings (log)", xref="paper", yref="paper", x=0, y=0.5,
             xanchor="center", yanchor="middle", xshift=-74, textangle=-90, showarrow=False,
             font=dict(family=FONT, size=20, color="#1A1A1A")),
    ],
)
fig.write_html("out.html")
